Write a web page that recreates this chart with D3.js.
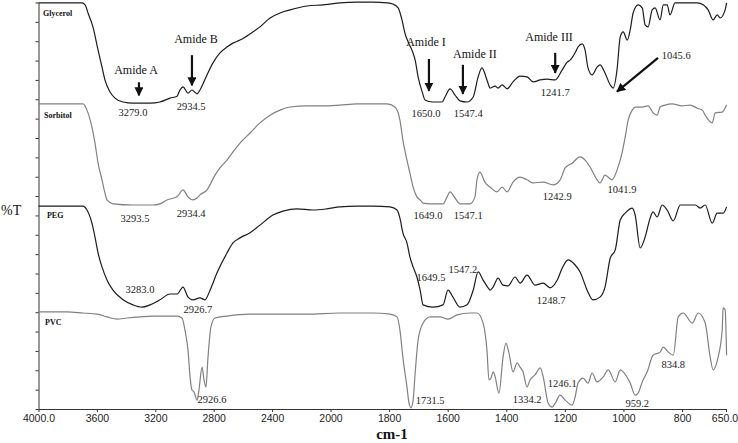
<!DOCTYPE html>
<html>
<head>
<meta charset="utf-8">
<script src="https://cdn.jsdelivr.net/npm/d3@7"></script>
<style>
  html, body { margin: 0; padding: 0; background: #fff; }
  svg { display: block; }
</style>
</head>
<body>
<svg id="chart" width="738" height="443"></svg>
<script>
// ---- Data (wavenumber cm-1, %T with vertical offsets) ----
const xTickValues = [4000, 3600, 3200, 2800, 2400, 2000, 1800, 1600, 1400, 1200, 1000, 800, 650];
const xTickLabels = ["4000.0", "3600", "3200", "2800", "2400", "2000", "1800", "1600", "1400", "1200", "1000", "800", "650.0"];

const glycerol = [[4000,104.9],[3702,104.9],[3681,104.4],[3661,102.3],[3627,98.7],[3592,92.7],[3565,88.3],[3545,85.0],[3510,81.9],[3476,80.3],[3421,79.3],[3353,79.0],[3236,79.0],[3168,79.3],[3099,80.3],[3051,80.8],[3031,82.4],[3010,83.2],[2976,81.6],[2949,82.4],[2914,81.4],[2894,82.4],[2846,86.3],[2805,89.4],[2757,92.0],[2709,93.5],[2668,94.5],[2620,95.3],[2551,96.9],[2483,98.7],[2414,101.0],[2346,102.3],[2277,103.1],[2161,104.1],[2051,104.4],[2004,104.6],[1968,104.9],[1910,105.1],[1855,105.1],[1807,104.9],[1787,104.6],[1769,103.6],[1756,100.5],[1746,97.1],[1735,94.8],[1722,92.7],[1711,90.1],[1701,85.8],[1687,81.9],[1677,79.8],[1653,79.3],[1619,79.3],[1609,80.6],[1592,82.7],[1575,81.1],[1558,79.6],[1534,79.3],[1513,80.6],[1496,85.8],[1483,88.1],[1466,85.0],[1455,82.9],[1438,83.4],[1428,82.9],[1414,83.7],[1397,82.7],[1377,84.5],[1353,86.0],[1329,85.8],[1308,84.5],[1284,85.0],[1261,85.2],[1233,85.0],[1209,87.6],[1192,89.6],[1182,90.1],[1165,92.0],[1155,93.5],[1141,94.3],[1131,92.7],[1121,88.1],[1107,86.3],[1090,88.3],[1080,88.9],[1063,86.8],[1045,83.7],[1035,82.9],[1022,87.6],[1011,96.1],[1001,97.4],[987,95.3],[977,97.9],[967,102.3],[950,104.4],[936,103.6],[926,99.2],[916,98.7],[902,103.1],[892,103.6],[875,100.5],[864,104.4],[851,104.4],[841,101.8],[824,104.9],[796,104.9],[748,104.9],[728,104.4],[711,103.1],[694,100.5],[680,101.8],[670,101.0],[653,103.1],[648,104.9]];

const sorbitol = [[4000,78.8],[3695,78.8],[3668,77.2],[3634,72.8],[3613,68.7],[3592,63.5],[3565,59.2],[3545,55.8],[3531,54.0],[3490,53.0],[3353,52.7],[3216,52.7],[3168,53.0],[3120,54.0],[3051,54.8],[3010,56.6],[2976,54.8],[2942,54.0],[2914,54.5],[2894,55.3],[2846,56.6],[2791,60.4],[2757,62.3],[2709,64.3],[2668,66.4],[2620,68.7],[2551,71.3],[2483,73.9],[2414,75.9],[2346,77.2],[2277,78.0],[2161,78.3],[2051,78.3],[1968,78.5],[1910,78.8],[1807,78.8],[1780,78.0],[1763,74.6],[1753,69.5],[1739,64.3],[1729,61.0],[1718,57.3],[1705,54.8],[1694,54.0],[1684,53.2],[1660,53.0],[1616,53.0],[1602,54.8],[1592,56.1],[1575,54.5],[1558,53.0],[1524,53.0],[1507,54.8],[1500,59.2],[1490,61.2],[1473,58.6],[1455,57.3],[1432,56.1],[1414,57.3],[1397,56.1],[1377,58.6],[1353,59.9],[1329,59.2],[1308,58.4],[1274,58.6],[1240,57.9],[1216,59.2],[1199,62.3],[1175,63.5],[1148,65.1],[1131,64.3],[1114,62.5],[1090,59.2],[1080,58.4],[1063,60.4],[1039,59.2],[1022,61.7],[1005,66.1],[994,70.3],[984,74.6],[970,77.2],[960,78.0],[936,78.0],[916,78.3],[899,76.5],[885,75.9],[875,78.0],[858,78.5],[834,78.8],[800,78.3],[773,78.5],[748,77.7],[731,77.2],[721,75.9],[697,73.9],[687,76.5],[663,76.7],[648,78.5]];

const peg = [[4000,52.4],[3695,52.4],[3668,51.4],[3634,48.0],[3613,44.4],[3592,40.3],[3565,36.7],[3531,33.3],[3490,30.7],[3421,28.2],[3353,26.9],[3291,26.3],[3236,26.9],[3168,28.2],[3099,29.7],[3051,29.7],[3010,31.5],[2976,28.9],[2942,28.2],[2894,28.7],[2860,28.2],[2825,30.7],[2778,35.1],[2709,40.3],[2668,42.9],[2620,44.2],[2551,45.5],[2483,47.5],[2394,50.1],[2325,51.1],[2229,51.7],[2120,51.4],[2024,51.7],[1968,52.2],[1910,52.4],[1855,52.4],[1797,52.2],[1773,51.4],[1763,49.3],[1753,45.5],[1739,42.9],[1729,39.3],[1718,36.7],[1705,34.1],[1694,30.7],[1684,26.9],[1650,26.3],[1616,26.9],[1599,30.7],[1582,28.9],[1558,26.3],[1534,26.9],[1513,30.7],[1496,35.4],[1479,33.3],[1462,31.3],[1455,30.7],[1445,31.5],[1428,33.8],[1411,32.0],[1394,31.8],[1370,34.1],[1353,32.5],[1329,34.6],[1302,32.0],[1274,32.5],[1250,31.3],[1226,33.3],[1209,36.4],[1189,38.5],[1165,37.2],[1148,35.4],[1124,30.7],[1104,28.2],[1080,28.9],[1063,31.5],[1045,39.0],[1028,41.1],[1011,48.8],[994,50.6],[970,51.9],[960,50.1],[943,41.6],[926,44.4],[909,49.3],[899,50.9],[885,49.6],[868,52.7],[851,51.4],[830,48.6],[806,52.7],[755,52.7],[738,51.9],[721,52.7],[697,48.0],[680,50.6],[659,50.6],[648,52.2]];

const pvc = [[4000,25.1],[3805,25.1],[3695,24.8],[3599,24.5],[3531,23.8],[3462,23.2],[3394,23.5],[3305,23.8],[3216,24.0],[3120,24.0],[3051,24.0],[3017,23.5],[2997,20.4],[2976,15.2],[2962,8.3],[2949,4.9],[2935,4.4],[2914,2.3],[2901,4.9],[2880,10.8],[2866,7.5],[2853,5.7],[2839,13.4],[2819,21.2],[2791,23.5],[2709,24.0],[2551,24.5],[2394,24.5],[2161,24.5],[1968,24.8],[1855,24.8],[1797,24.5],[1773,23.8],[1763,20.4],[1753,13.4],[1739,5.7],[1732,1.5],[1725,0.3],[1718,2.3],[1711,9.3],[1701,17.8],[1684,22.2],[1660,23.8],[1626,23.8],[1599,23.2],[1568,24.3],[1524,24.8],[1500,24.8],[1479,22.2],[1466,15.2],[1459,7.5],[1452,8.0],[1445,9.6],[1438,8.3],[1425,4.1],[1411,13.4],[1401,17.0],[1391,14.5],[1377,9.6],[1363,11.9],[1353,10.8],[1343,9.6],[1329,5.7],[1319,7.5],[1302,8.8],[1284,10.6],[1274,8.3],[1257,1.5],[1243,0.5],[1233,1.5],[1216,3.6],[1199,2.3],[1175,1.0],[1165,3.1],[1155,6.7],[1138,8.0],[1121,6.7],[1107,9.3],[1090,7.0],[1069,8.3],[1052,10.1],[1028,7.0],[1011,10.1],[1001,9.6],[977,6.7],[960,3.6],[950,4.1],[936,7.0],[919,9.6],[899,13.9],[875,14.7],[864,16.0],[847,14.7],[830,13.9],[813,23.8],[796,24.8],[765,22.2],[745,24.8],[721,22.2],[704,13.4],[694,10.1],[677,13.4],[663,20.4],[660,26.1],[653,25.6],[648,13.9]];

const seriesNames = ["Glycerol", "Sorbitol", "PEG", "PVC"];
const seriesData = [glycerol, sorbitol, peg, pvc];
const seriesColors = ["#1c1c1c", "#808080", "#1c1c1c", "#808080"];
// series label anchors [wavenumber, value]
const seriesLabelPos = [[3969, 101.5], [3962, 75.2], [3942, 49.3], [3955, 21.7]];

// peak annotations: text, wavenumber, value (text centre / baseline)
const amideLabels = [
  ["Amide A", 3332, 86.5], ["Amide B", 2921, 94.5], ["Amide I", 1674, 93.8],
  ["Amide II", 1507, 90.7], ["Amide III", 1254, 95.1]
];
const peakLabels = [
  ["3279.0", 3353, 75.7], ["2934.5", 2955, 77.2], ["1650.0", 1674, 75.4], ["1547.4", 1530, 75.4],
  ["1241.7", 1233, 80.9], ["1045.6", 820, 90.4],
  ["3293.5", 3339, 48.3], ["2934.4", 2955, 49.6], ["1649.0", 1667, 49.1], ["1547.1", 1530, 49.1],
  ["1242.9", 1226, 54.0], ["1041.9", 1005, 55.8],
  ["3283.0", 3305, 30.0], ["2926.7", 2908, 24.8], ["1649.5", 1657, 33.1], ["1547.2", 1548, 35.1],
  ["1248.7", 1247, 27.1],
  ["2926.6", 2812, 1.5], ["1731.5", 1660, 1.3], ["1334.2", 1329, 1.5], ["1246.1", 1209, 5.7],
  ["959.2", 953, 0.5], ["834.8", 830, 10.6]
];
// arrows: [wn1, v1, wn2, v2]
const arrows = [
  [3312, 84.4, 3312, 81.0], [2949, 91.4, 2949, 83.6], [1664, 90.4, 1664, 82.2],
  [1548, 88.9, 1548, 81.4], [1233, 92.0, 1233, 86.8], [882, 90.7, 1022, 82.0]
];

// ---- Drawing ----
const svg = d3.select("#chart");
const x = d3.scaleLinear().domain([4000, 2000, 650]).range([38.5, 330.5, 726]);
const y = d3.scaleLinear().domain([0, 105]).range([409, 2.5]);

svg.append("defs").append("marker")
  .attr("id", "ah").attr("markerUnits", "userSpaceOnUse")
  .attr("viewBox", "0 -5 10 10").attr("refX", 9).attr("refY", 0)
  .attr("markerWidth", 9).attr("markerHeight", 9).attr("orient", "auto")
  .append("path").attr("d", "M0,-5L10,0L0,5Z").attr("fill", "#111");

// axes
const xAxis = d3.axisBottom(x).tickValues(xTickValues)
  .tickFormat((d, i) => xTickLabels[i]).tickSize(3).tickSizeOuter(0).tickPadding(3);
const gx = svg.append("g").attr("transform", "translate(0,409)").call(xAxis);
gx.selectAll("text").attr("font-family", "Liberation Sans, Arial, sans-serif")
  .attr("font-size", "10.5px").attr("fill", "#222")
  .attr("dx", (d, i) => i === xTickValues.length - 1 ? -1.5 : 0);
gx.selectAll("line,path").attr("stroke", "#333");

const yAxis = d3.axisLeft(y).tickValues(d3.range(0, 106, 5)).tickSize(3).tickSizeOuter(0).tickFormat("");
const gy = svg.append("g").attr("transform", "translate(38.5,0)").call(yAxis);
gy.selectAll("line,path").attr("stroke", "#333");

// curves
const line = d3.line().x(d => x(d[0])).y(d => y(d[1])).curve(d3.curveMonotoneX);
seriesData.forEach((s, i) => {
  svg.append("path").datum(s).attr("d", line)
    .attr("fill", "none").attr("stroke", seriesColors[i]).attr("stroke-width", 1.2);
});

// series labels
svg.selectAll(".slab").data(seriesNames).enter().append("text")
  .attr("x", (d, i) => x(seriesLabelPos[i][0])).attr("y", (d, i) => y(seriesLabelPos[i][1]))
  .attr("font-family", "Liberation Serif, Times New Roman, serif").attr("font-weight", "bold")
  .attr("font-size", "8px").attr("fill", "#111").text(d => d);

// amide labels
svg.selectAll(".alab").data(amideLabels).enter().append("text")
  .attr("x", d => x(d[1])).attr("y", d => y(d[2])).attr("text-anchor", "middle")
  .attr("font-family", "Liberation Serif, Times New Roman, serif")
  .attr("font-size", "12px").attr("fill", "#111").text(d => d[0]);

// peak labels
svg.selectAll(".plab").data(peakLabels).enter().append("text")
  .attr("x", d => x(d[1])).attr("y", d => y(d[2])).attr("text-anchor", "middle")
  .attr("font-family", "Liberation Serif, Times New Roman, serif")
  .attr("font-size", "10.5px").attr("fill", "#222").text(d => d[0]);

// arrows
svg.selectAll(".arr").data(arrows).enter().append("line")
  .attr("x1", d => x(d[0])).attr("y1", d => y(d[1]))
  .attr("x2", d => x(d[2])).attr("y2", d => y(d[3]))
  .attr("stroke", "#111").attr("stroke-width", 2.2).attr("marker-end", "url(#ah)");

// axis titles
svg.append("text").attr("x", 1).attr("y", 215)
  .attr("font-family", "Liberation Serif, Times New Roman, serif").attr("font-size", "14px")
  .attr("fill", "#111").text("%T");
svg.append("text").attr("x", 392).attr("y", 439).attr("text-anchor", "middle")
  .attr("font-family", "Liberation Serif, Times New Roman, serif").attr("font-weight", "bold")
  .attr("font-size", "15px").attr("fill", "#111").text("cm-1");
</script>
</body>
</html>
